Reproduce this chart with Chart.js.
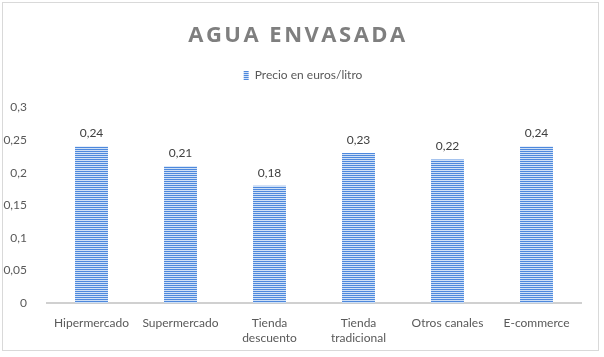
<!DOCTYPE html>
<html><head><meta charset="utf-8">
<script src="https://cdn.jsdelivr.net/npm/chart.js@4"></script>
<style>
html,body{margin:0;padding:0;background:#fff;}
#wrap{position:absolute;left:2px;top:2px;width:597px;height:349px;border:1px solid #d9d9d9;box-sizing:border-box;}
canvas{display:block;}
</style></head>
<body><div id="wrap"><canvas id="c" width="595" height="347"></canvas></div>
<script>
const categories = ["Hipermercado","Supermercado",["Tienda","descuento"],["Tienda","tradicional"],"Otros canales","E-commerce"];
const seriesName = "Precio en euros/litro";
const values = [0.24, 0.21, 0.18, 0.23, 0.22, 0.24];
const titleText = "AGUA ENVASADA";

function makePattern(){
  const p = document.createElement('canvas');
  p.width = 4; p.height = 2;
  const g = p.getContext('2d');
  g.fillStyle = '#4d88dd'; g.fillRect(0,0,4,1);
  g.fillStyle = '#cfe0f6'; g.fillRect(0,1,4,1);
  return document.getElementById('c').getContext('2d').createPattern(p,'repeat');
}
const pattern = makePattern();
const fmt = v => (Math.round(v*100)/100).toString().replace('.', ',');

const labelPlugin = {
  id:'dataLabels',
  afterDatasetsDraw(chart){
    const ctx = chart.ctx;
    ctx.save();
    ctx.font = '12px Lato';
    ctx.fillStyle = '#404040';
    ctx.textAlign = 'center';
    ctx.textBaseline = 'bottom';
    chart.getDatasetMeta(0).data.forEach((el,i)=>{
      ctx.fillText(fmt(values[i]), el.x, el.y - 7);
    });
    ctx.restore();
  }
};
const legendSpace = {
  id:'legendSpace',
  beforeUpdate(chart){
    const lg = chart.legend;
    if (lg && !lg._wrapped){
      const f = lg.fit;
      lg.fit = function(){ f.call(this); this.height += 16; };
      const d = lg.draw;
      lg.draw = function(){ const ctx = chart.ctx; ctx.save(); ctx.translate(11,0); d.apply(this, arguments); ctx.restore(); };
      lg._wrapped = true;
    }
  }
};

const chart = new Chart(document.getElementById('c'), {
  type:'bar',
  data:{labels:categories, datasets:[{label:seriesName, data:values, backgroundColor:pattern, borderWidth:0, barPercentage:0.37, categoryPercentage:1}]},
  options:{
    responsive:false, animation:false,
    layout:{padding:{left:0,right:17,top:10,bottom:0}},
    plugins:{
      title:{display:true, text:titleText, color:'#7f7f7f', font:{family:'Open Sans', size:22, weight:'bold'}, padding:{top:10,bottom:10}},
      legend:{display:true, position:'top', labels:{boxWidth:5, boxHeight:9, color:'#595959', font:{family:'Lato', size:12}, padding:10}},
      tooltip:{enabled:false}
    },
    scales:{
      x:{grid:{display:false}, border:{color:'#d0d0d0', width:2}, ticks:{color:'#595959', font:{family:'Lato', size:12}, maxRotation:0, autoSkip:false, padding:5}},
      y:{min:0, max:0.3, grid:{display:false}, border:{display:false}, afterFit:s=>{s.width=44;}, ticks:{stepSize:0.05, color:'#595959', font:{family:'Lato', size:12}, padding:12, callback:v=>fmt(v)}}
    }
  },
  plugins:[labelPlugin, legendSpace]
});
const tb = chart.titleBlock;
if (tb){
  const orig = tb.draw.bind(tb);
  tb.draw = function(){ const ctx = chart.ctx; ctx.save(); ctx.letterSpacing = '2.5px'; ctx.translate(6,0); orig(); ctx.restore(); ctx.letterSpacing = '0px'; };
}
chart.update();
</script></body></html>
